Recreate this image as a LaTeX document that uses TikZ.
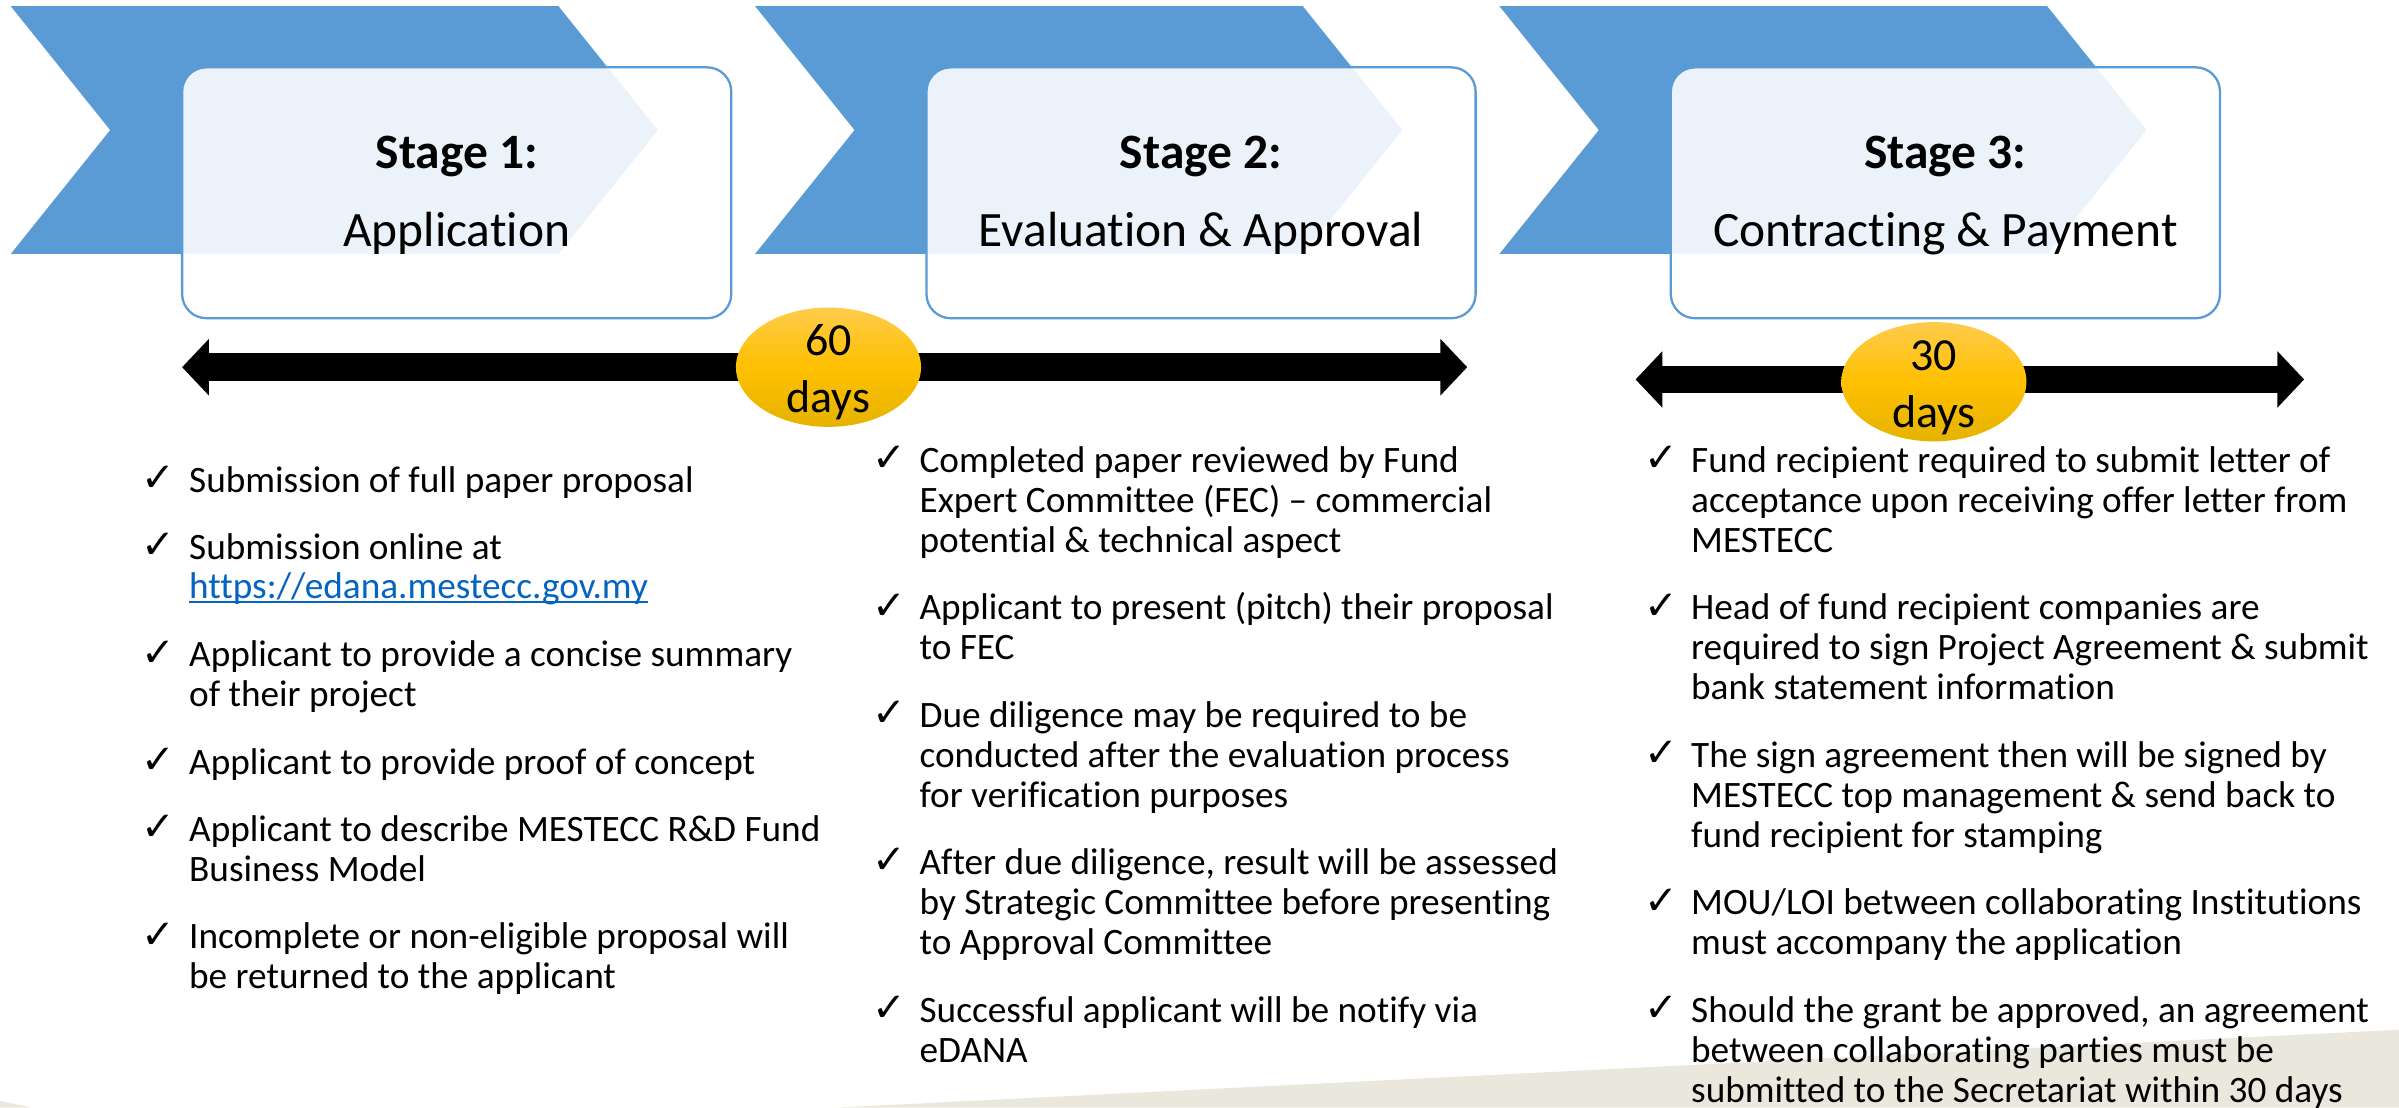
\documentclass[tikz,border=0pt]{standalone}
\usepackage{fontspec}
\setmainfont{Carlito}[Ligatures={TeX,NoCommon}]
\newfontfamily\symfont{DejaVu Sans}
\usepackage{tikz}
\usetikzlibrary{arrows.meta,shapes.geometric}

\definecolor{chevblue}{HTML}{5B9BD5}
\definecolor{linkblue}{HTML}{0563C1}
\definecolor{goldtop}{HTML}{FFCB4C}
\definecolor{goldmid}{HTML}{FFC000}
\definecolor{goldbot}{HTML}{E5B300}
\definecolor{tanbg}{HTML}{EAE8DD}

\newcommand{\bodyfont}{\fontsize{13.86pt}{14.91pt}\selectfont}
\newcommand{\titlefont}{\fontsize{18.4pt}{22pt}\selectfont}
\newcommand{\daysfont}{\fontsize{17.1pt}{21pt}\selectfont}

\begin{document}
\begin{tikzpicture}[x=0.02cm,y=-0.02cm,
  stagebox/.style={draw=chevblue, line width=0.85pt, fill=white, fill opacity=0.88, rounded corners=9pt, minimum width=7.18cm, minimum height=3.28cm, inner sep=0pt},
  title/.style={anchor=base, inner sep=0pt, font=\titlefont},
  stagehead/.style={title, font=\titlefont\bfseries},
  item/.style={anchor=north west, inner sep=0pt, align=left, font=\bodyfont},
  tick/.style={anchor=base west, inner sep=0pt, font=\symfont\fontsize{15pt}{17pt}\selectfont},
  timeline/.style={line width=10.2pt, {Triangle[length=10pt,width=20.5pt]}-{Triangle[length=10pt,width=20.5pt]}},
  daysoval/.style={ellipse, minimum width=2.42cm, minimum height=1.56cm, inner sep=0pt, top color=goldtop, bottom color=goldbot, middle color=goldmid},
  daystxt/.style={anchor=base, inner sep=0pt, font=\daysfont}]
\useasboundingbox (0,0) rectangle (1568,724);

\fill[tanbg] (0,719.5) -- (21,724) -- (0,724) -- cycle;
\fill[tanbg] (545,724) -- (1568,673) -- (1568,724) -- cycle;

\fill[chevblue] (7,4) -- (365,4) -- (430,85) -- (365,166) -- (7,166) -- (72,85) -- cycle;
\fill[chevblue] (493.5,4) -- (851.5,4) -- (916.5,85) -- (851.5,166) -- (493.5,166) -- (558.5,85) -- cycle;
\fill[chevblue] (980,4) -- (1338,4) -- (1403,85) -- (1338,166) -- (980,166) -- (1045,85) -- cycle;

\node[stagebox](B1) at (298.5,126) {};
\node[stagebox](B2) at (785,126) {};
\node[stagebox](B3) at (1271.5,126) {};

\node[stagehead](S1) at (298.5,110) {Stage 1:};
\node[title](S1n) at (298.5,161) {Application};
\node[stagehead](S2) at (785,110) {Stage 2:};
\node[title](S2n) at (785,161) {Evaluation \& Approval};
\node[stagehead](S3) at (1271.5,110) {Stage 3:};
\node[title](S3n) at (1271.5,161) {Contracting \& Payment};

\coordinate (A1l) at (119,240);
\coordinate (A1r) at (959,240);
\draw[timeline](A1l) -- (A1r);
\coordinate (A2l) at (1069,248);
\coordinate (A2r) at (1506,248);
\draw[timeline](A2l) -- (A2r);

\node[daysoval](D1) at (541.5,240) {};
\node[daystxt](D1a) at (541.5,232.5) {60};
\node[daystxt](D1b) at (541.5,269.5) {days};
\node[daysoval](D2) at (1264,249.5) {};
\node[daystxt](D2a) at (1264,242) {30};
\node[daystxt](D2b) at (1264,279.5) {days};

\node[tick](K1a) at (92,321.2) {✓};
\node[item](T1a) at (123.3,302.9) {\strut Submission of full paper proposal};
\node[tick](K1b) at (92,365.2) {✓};
\node[item](T1b) at (123.3,346.9) {\strut Submission online at};
\node[item, anchor=base west, text=linkblue](LNK) at (123.3,391.4) {https://edana.mestecc.gov.my};
\draw[linkblue, line width=0.85pt] ([yshift=-1.3pt]LNK.base west) -- ([yshift=-1.3pt]LNK.base east);
\node[tick](K1c) at (92,435.4) {✓};
\node[item](T1c) at (123.3,417.1) {\strut Applicant to provide a concise summary\\of their project};
\node[tick](K1d) at (92,505.6) {✓};
\node[item](T1d) at (123.3,487.3) {\strut Applicant to provide proof of concept};
\node[tick](K1e) at (92,549.6) {✓};
\node[item](T1e) at (123.3,531.3) {\strut Applicant to describe MESTECC R\&D Fund\\Business Model};
\node[tick](K1f) at (92,619.8) {✓};
\node[item](T1f) at (123.3,601.5) {\strut Incomplete or non-eligible proposal will\\be returned to the applicant};

\node[tick](K2a) at (570,308.2) {✓};
\node[item](T2a) at (600.7,289.9) {\strut Completed paper reviewed by Fund\\Expert Committee (FEC) – commercial\\potential \& technical aspect};
\node[tick](K2b) at (570,404.6) {✓};
\node[item](T2b) at (600.7,386.3) {\strut Applicant to present (pitch) their proposal\\to FEC};
\node[tick](K2c) at (570,474.8) {✓};
\node[item](T2c) at (600.7,456.5) {\strut Due diligence may be required to be\\conducted after the evaluation process\\for verification purposes};
\node[tick](K2d) at (570,571.2) {✓};
\node[item](T2d) at (600.7,552.9) {\strut After due diligence, result will be assessed\\by Strategic Committee before presenting\\to Approval Committee};
\node[tick](K2e) at (570,667.6) {✓};
\node[item](T2e) at (600.7,649.3) {\strut Successful applicant will be notify via\\eDANA};

\node[tick](K3a) at (1074.5,308.2) {✓};
\node[item](T3a) at (1105,289.9) {\strut Fund recipient required to submit letter of\\acceptance upon receiving offer letter from\\MESTECC};
\node[tick](K3b) at (1074.5,404.6) {✓};
\node[item](T3b) at (1105,386.3) {\strut Head of fund recipient companies are\\required to sign Project Agreement \& submit\\bank statement information};
\node[tick](K3c) at (1074.5,501.0) {✓};
\node[item](T3c) at (1105,482.7) {\strut The sign agreement then will be signed by\\MESTECC top management \& send back to\\fund recipient for stamping};
\node[tick](K3d) at (1074.5,597.4) {✓};
\node[item](T3d) at (1105,579.1) {\strut MOU/LOI between collaborating Institutions\\must accompany the application};
\node[tick](K3e) at (1074.5,667.6) {✓};
\node[item](T3e) at (1105,649.3) {\strut Should the grant be approved, an agreement\\between collaborating parties must be\\submitted to the Secretariat within 30 days};
\end{tikzpicture}
\end{document}
